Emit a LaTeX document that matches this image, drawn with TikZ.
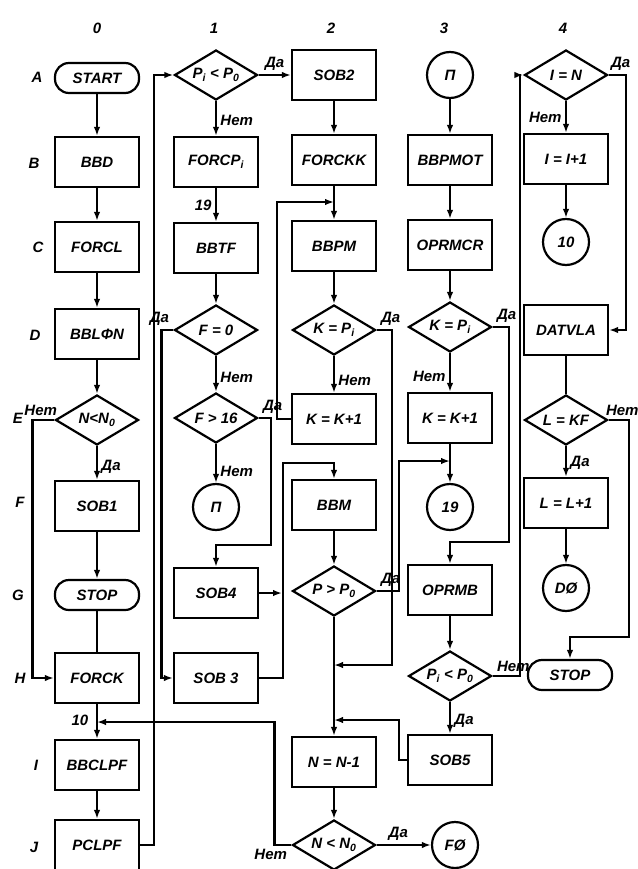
\documentclass[tikz,border=0pt]{standalone}
\usepackage{fontspec}
\setmainfont{Liberation Sans}
\usetikzlibrary{shapes.geometric,arrows.meta,positioning,calc}

\begin{document}
\begin{tikzpicture}[x=1pt,y=-1pt,line width=2.2pt,>={Latex[length=9pt,width=6.5pt]},
    every node/.style={font=\fontsize{15}{17}\selectfont\bfseries\itshape},
    box/.style={draw,rectangle,minimum width=84pt,minimum height=50pt,inner sep=0pt},
    term/.style={draw,rectangle,rounded corners=14pt,minimum width=84pt,minimum height=30pt,inner sep=0pt},
    dec/.style={draw,diamond,aspect=1.6,minimum width=83pt,minimum height=50pt,inner sep=0pt},
    conn/.style={draw,circle,minimum size=46pt,inner sep=0pt}]
    \useasboundingbox (0,0) rectangle (637,869);

    % column and row labels
    \node (k0) at (97,28) {0};
    \node (k1) at (214,28) {1};
    \node (k2) at (331,28) {2};
    \node (k3) at (444,28) {3};
    \node (k4) at (563,28) {4};
    \node (rA) at (37,77) {A};
    \node (rB) at (34,163) {B};
    \node (rC) at (38,247) {C};
    \node (rD) at (35,335) {D};
    \node (rE) at (18,418) {E};
    \node (rF) at (20,502) {F};
    \node (rG) at (18,595) {G};
    \node (rH) at (20,678) {H};
    \node (rI) at (36,765) {I};
    \node (rJ) at (34,847) {J};

    % column 0
    \node[term] (start) at (97,78) {START};
    \node[box] (bbd) at (97,162) {BBD};
    \node[box] (forcl) at (97,247) {FORCL};
    \node[box] (bblfn) at (97,334) {BBLΦN};
    \node[dec] (nlt) at (97,420) {N<N\textsubscript{0}};
    \node[box] (sob1) at (97,506) {SOB1};
    \node[term] (stop) at (97,595) {STOP};
    \node[box] (forck) at (97,678) {FORCK};
    \node[box] (bbclpf) at (97,765) {BBCLPF};
    \node[box] (pclpf) at (97,845) {PCLPF};
    \coordinate (m10) at (97,722);
    \node (l10) at (80,720) {10};

    % column 1
    \node[dec] (pilt) at (216,75) {P\textsubscript{i} < P\textsubscript{0}};
    \node[box] (forcp) at (216,162) {FORCP\textsubscript{i}};
    \node[box] (bbtf) at (216,248) {BBTF};
    \node[dec] (feq) at (216,330) {F = 0};
    \node[dec] (fgt) at (216,418) {F > 16};
    \node[conn] (pcirc) at (216,507) {П};
    \node[box] (sob4) at (216,593) {SOB4};
    \node[box] (sob3) at (216,678) {SOB 3};
    \coordinate (j4) at (282,593);

    % column 2
    \node[box] (sob2) at (334,75) {SOB2};
    \node[box] (forckk) at (334,160) {FORCKK};
    \node[box] (bbpm) at (334,246) {BBPM};
    \node[dec] (kpa) at (334,330) {K = P\textsubscript{i}};
    \node[box] (kka) at (334,419) {K = K+1};
    \node[box] (bbm) at (334,505) {BBM};
    \node[dec] (pgt) at (334,591) {P > P\textsubscript{0}};
    \node[box] (nn) at (334,762) {N = N-1};
    \node[dec] (nlt2) at (334,845) {N < N\textsubscript{0}};
    \node[conn] (fcirc) at (455,845) {FØ};
    \coordinate (j2) at (334,202);
    \coordinate (j2b) at (334,665);
    \coordinate (j2c) at (334,720);

    % column 3
    \node[conn] (pA) at (450,75) {П};
    \node[box] (bbpmot) at (450,160) {BBPMOT};
    \node[box] (oprmcr) at (450,245) {OPRMCR};
    \node[dec] (kpb) at (450,327) {K = P\textsubscript{i}};
    \node[box] (kkb) at (450,418) {K = K+1};
    \node[conn] (c19) at (450,507) {19};
    \node[box] (oprmb) at (450,590) {OPRMB};
    \node[dec] (pilt2) at (450,676) {P\textsubscript{i} < P\textsubscript{0}};
    \node[box] (sob5) at (450,760) {SOB5};
    \coordinate (j3) at (450,461);

    % column 4
    \node[dec] (ieq) at (566,75) {I = N};
    \node[box] (iinc) at (566,159) {I = I+1};
    \node[conn] (c10) at (566,242) {10};
    \node[box] (datvla) at (566,330) {DATVLA};
    \node[dec] (lkf) at (566,420) {L = KF};
    \node[box] (linc) at (566,503) {L = L+1};
    \node[conn] (dcirc) at (566,588) {DØ};
    \node[term] (stopb) at (570,675) {STOP};

    % connectors, column 0
    \draw[->] (start) -- (bbd);
    \draw[->] (bbd) -- (forcl);
    \draw[->] (forcl) -- (bblfn);
    \draw[->] (bblfn) -- (nlt);
    \draw[->] (nlt) -- node[pos=0.6,right] {Да} (sob1);
    \draw[->] (nlt.west) node[above left,xshift=7pt] {Нет} -- ++(-22,0) |- (forck.west);
    \draw[->] (sob1) -- (stop);
    \draw (stop) -- (forck);
    \draw[->] (forck) -- (bbclpf);
    \draw[->] (bbclpf) -- (pclpf);
    \draw[->] (pclpf.east) -- ++(14,0) |- (pilt.west);

    % column 1
    \draw[->] (pilt.east) -- node[above] {Да} (sob2.west);
    \draw[->] (pilt) -- node[pos=0.55,right] {Нет} (forcp);
    \draw[->] (forcp) -- node[left] {19} (bbtf);
    \draw[->] (bbtf) -- (feq);
    \draw[->] (feq) -- node[pos=0.6,right] {Нет} (fgt);
    \draw[->] (feq.west) node[above left] {Да} -- ++(-12,0) |- (sob3.west);
    \draw[->] (fgt) -- node[pos=0.7,right] {Нет} (pcirc);
    \draw[->] (fgt.east) node[above right] {Да} -- ++(12,0) -- ++(0,127) -| (sob4.north);
    \draw[->] (sob4.east) -- (j4);
    \draw[->] (sob3.east) -- ++(24,0) -- ++(0,-215) -| (bbm.north);

    % column 2
    \draw[->] (sob2) -- (forckk);
    \draw[->] (forckk) -- (bbpm);
    \draw[->] (kka.west) -- ++(-14,0) |- (j2);
    \draw[->] (bbpm) -- (kpa);
    \draw[->] (kpa) -- node[pos=0.65,right] {Нет} (kka);
    \draw[->] (kpa.east) node[above right] {Да} -- ++(15,0) |- (j2b);
    \draw[->] (bbm) -- (pgt);
    \draw[->] (pgt.east) node[above right] {Да} -- ++(22,0) |- (j3);
    \draw[->] (pgt) -- (nn);
    \draw[->] (nn) -- (nlt2);
    \draw[->] (nlt2) -- node[pos=0.4,above] {Да} (fcirc);
    \draw[->] (nlt2.west) node[anchor=north east] {Нет} -- ++(-17,0) |- (m10);

    % column 3
    \draw[->] (pA) -- (bbpmot);
    \draw[->] (bbpmot) -- (oprmcr);
    \draw[->] (oprmcr) -- (kpb);
    \draw[->] (kpb) -- node[pos=0.6,left] {Нет} (kkb);
    \draw[->] (kpb.east) node[above right] {Да} -- ++(16,0) -- ++(0,215) -| (oprmb.north);
    \draw[->] (kkb) -- (c19);
    \draw[->] (oprmb) -- (pilt2);
    \draw[->] (pilt2) -- node[pos=0.6,right] {Да} (sob5);
    \draw[->] (pilt2.east) node[above right] {Нет} -- ++(27,0) |- (ieq.west);
    \draw[->] (sob5.west) -- ++(-8,0) |- (j2c);

    % column 4
    \draw[->] (ieq) -- node[left] {Нет} (iinc);
    \draw[->] (ieq.east) node[above right,xshift=-2pt] {Да} -- ++(17,0) |- (datvla.east);
    \draw[->] (iinc) -- (c10);
    \draw (datvla) -- (lkf);
    \draw[->] (lkf) -- node[pos=0.55,right] {Да} (linc);
    \draw[->] (lkf.east) node[above right,xshift=-7pt] {Нет} -- ++(20,0) -- ++(0,217) -| (stopb.north);
    \draw[->] (linc) -- (dcirc);
\end{tikzpicture}
\end{document}
